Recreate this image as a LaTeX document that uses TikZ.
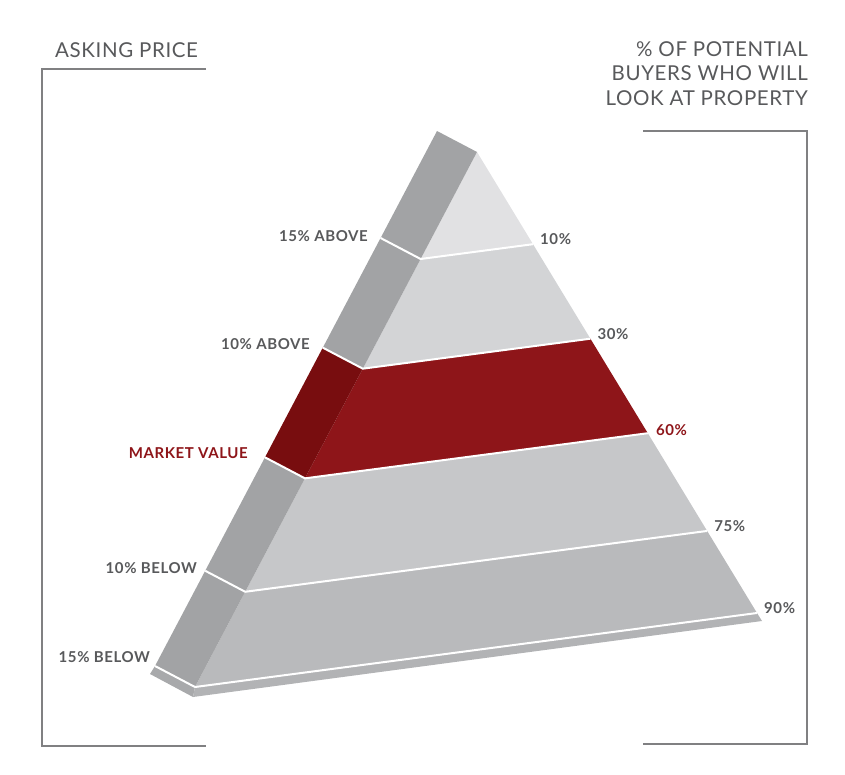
\documentclass[tikz,border=0pt]{standalone}
\usepackage{fontspec}
\setmainfont{Lato}
\usetikzlibrary{calc}
\definecolor{labelgray}{RGB}{88,89,91}
\definecolor{framegray}{RGB}{128,128,130}
\definecolor{mvred}{RGB}{142,21,25}
\definecolor{mvredside}{RGB}{120,13,15}
\definecolor{sidegray}{RGB}{162,163,165}
\definecolor{bandA}{RGB}{225,225,227}
\definecolor{bandB}{RGB}{211,212,214}
\definecolor{bandD}{RGB}{198,199,201}
\definecolor{bandE}{RGB}{185,186,188}
\definecolor{slabside}{RGB}{168,169,171}
\definecolor{slabfront}{RGB}{178,179,181}

\begin{document}
\begin{tikzpicture}[x=1pt,y=-1pt,
	lbl/.style={font=\fontsize{15}{17}\selectfont\bfseries\addfontfeatures{LetterSpace=4},text=labelgray,inner sep=0pt},
	head/.style={font=\fontsize{20.5}{24.5}\selectfont\addfontfeatures{LetterSpace=3},text=labelgray,inner sep=0pt},
	sep/.style={white,line width=2pt,line join=round},
	frame/.style={framegray,line width=1.5pt}]
	\useasboundingbox (0,0) rectangle (845,775);
	% front face corners
	\coordinate (apex) at (477,152);
	\coordinate (bl) at (195,687);
	\coordinate (br) at (757,613);
	% band edges
	\foreach \i/\t in {0/0,1/0.2,2/0.405,3/0.61,4/0.822,5/1}{
		\coordinate (l\i) at ($(apex)!\t!(bl)$);
		\coordinate (r\i) at ($(apex)!\t!(br)$);
		\coordinate (s\i) at ($(l\i)+(-40,-21)$);
	}
	% bands: front and side
	\foreach \i/\fc/\sc in {1/bandA/sidegray,2/bandB/sidegray,3/mvred/mvredside,4/bandD/sidegray,5/bandE/sidegray}{
		\pgfmathtruncatemacro{\j}{\i-1}
		\fill[\fc] (l\j) -- (r\j) -- (r\i) -- (l\i) -- cycle;
		\fill[\sc] (s\j) -- (l\j) -- (l\i) -- (s\i) -- cycle;
	}
	% base slab
	\fill[slabside] (s5) -- (l5) -- ($(l5)+(-2,10)$) -- ($(s5)+(-5,8)$) -- cycle;
	\fill[slabfront] (l5) -- (r5) -- ($(r5)+(5,8)$) -- ($(l5)+(-2,10)$) -- cycle;
	% separators
	\foreach \i in {1,...,5}{
		\draw[sep] (s\i) -- (l\i) -- (r\i);
	}
	% asking price labels
	\node[lbl,anchor=east] at (368,236) {15\% ABOVE};
	\node[lbl,anchor=east] at (310,344) {10\% ABOVE};
	\node[lbl,anchor=east,text=mvred] at (248,453) {MARKET VALUE};
	\node[lbl,anchor=east] at (197,568) {10\% BELOW};
	\node[lbl,anchor=east] at (150,657) {15\% BELOW};
	% buyer share labels
	\foreach \i/\pct in {1/10,2/30,4/75,5/90}{
		\node[lbl,anchor=west] at ($(r\i)+(7,-5)$) {\pct\%};
	}
	\node[lbl,anchor=west,text=mvred] at ($(r3)+(8,-3)$) {60\%};
	% headings
	\node[head,anchor=west] at (55,50) {ASKING PRICE};
	\node[head,anchor=north east,align=right] at (808,41) {\% OF POTENTIAL\\BUYERS WHO WILL\\LOOK AT PROPERTY};
	% brackets
	\draw[frame] (206,69) -- (42,69) -- (42,746) -- (206,746);
	\draw[frame] (643,131) -- (807,131) -- (807,744) -- (643,744);
\end{tikzpicture}
\end{document}
